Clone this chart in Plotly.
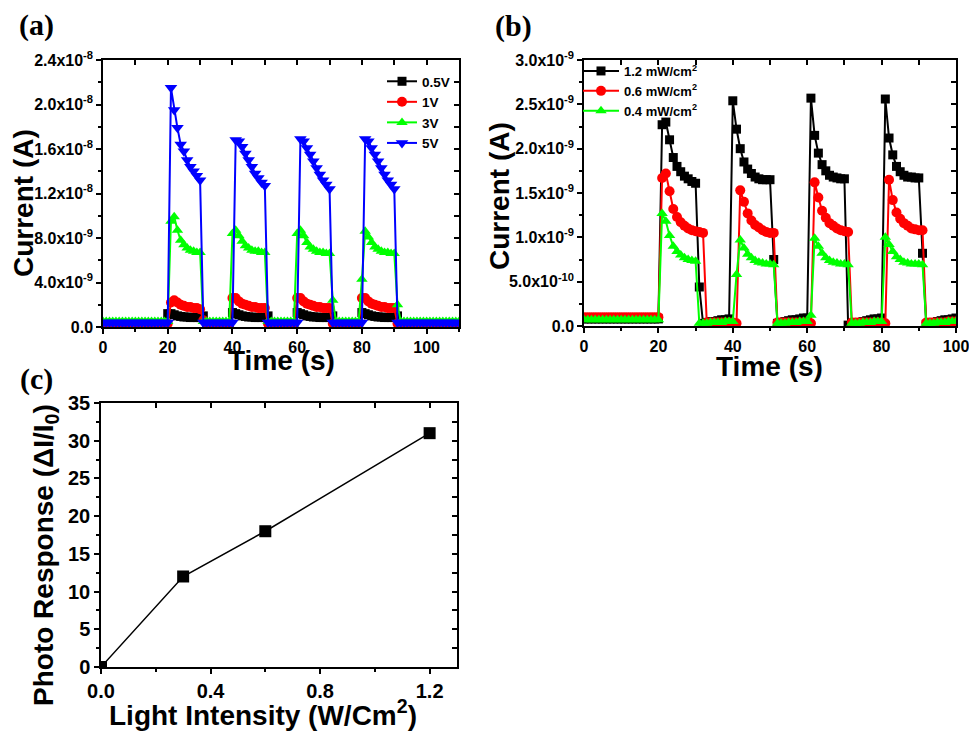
import plotly.graph_objects as go

W, H = 969, 731

# ---------------- Panel (a): current vs time at different bias (units of 1e-9 A)
time_a = list(range(0, 111))
a_05V = [0.1] * 20 + [1.2,
         1.2, 1.1, 1.0, 0.95, 0.9, 0.9, 0.85, 0.85, 0.85, 0.85,
         1.0] + [0.1] * 8 + [1.3,
         1.2, 1.1, 1.0, 0.95, 0.9, 0.9, 0.85, 0.85, 0.85, 0.85,
         1.0] + [0.1] * 8 + [1.3,
         1.2, 1.1, 1.0, 0.95, 0.9, 0.9, 0.85, 0.85, 0.85, 0.85,
         1.0] + [0.1] * 8 + [1.3,
         1.2, 1.1, 1.0, 0.95, 0.9, 0.9, 0.85, 0.85, 0.85, 0.85,
         1.0] + [0.1] * 19
a_1V = [0.3] * 21 + [2.2, 2.4, 2.2, 2.0, 1.9, 1.8, 1.8, 1.7, 1.7, 1.6,
        0.6] + [0.3] * 8 + [2.6,
        2.6, 2.3, 2.1, 2.0, 1.9, 1.8, 1.8, 1.7, 1.7, 1.7] + [0.3] * 9 + [2.6,
        2.6, 2.3, 2.1, 2.0, 1.9, 1.8, 1.8, 1.7, 1.7, 1.7] + [0.3] * 9 + [2.6,
        2.6, 2.3, 2.1, 2.0, 1.9, 1.8, 1.8, 1.7, 1.7, 1.7] + [0.3] * 20
a_3V = [0.5] * 21 + [9.5, 9.9, 8.7, 7.8, 7.4, 7.1, 6.9, 6.8, 6.7, 6.7] + [0.5] * 9 + [8.4,
        8.7, 8.2, 7.7, 7.3, 7.1, 6.9, 6.8, 6.8, 6.7, 6.7] + [0.5] * 9 + [8.4,
        8.7, 8.2, 7.6, 7.2, 7.0, 6.8, 6.7, 6.7, 6.6, 6.6,
        2.4] + [0.5] * 8 + [4.3,
        8.6, 8.1, 7.6, 7.2, 7.0, 6.8, 6.7, 6.7, 6.6, 6.6,
        2.0] + [0.5] * 19
a_5V = [0.4] * 21 + [21.5, 19.5, 17.9, 16.4, 15.8, 15.0, 14.4, 14.0, 13.6, 13.2] + [0.4] * 10 + [
        16.8, 16.7, 16.2, 15.6, 15.0, 14.4, 13.8, 13.4, 13.0, 12.7] + [0.4] * 10 + [
        16.9, 16.7, 16.1, 15.5, 14.9, 14.3, 13.7, 13.2, 12.8, 12.4] + [0.4] * 10 + [
        16.9, 16.7, 16.1, 15.5, 14.9, 14.3, 13.7, 13.2, 12.8, 12.4] + [0.4] * 20

a_names = ["0.5V", "1V", "3V", "5V"]
a_series = [a_05V, a_1V, a_3V, a_5V]
a_colors = ["#000000", "#FF0000", "#00FF00", "#0000FF"]
a_symbols = ["square", "circle", "triangle-up", "triangle-down"]
a_sizes = [9, 10, 10, 11]
a_ytickvals = [0, 4e-9, 8e-9, 1.2e-8, 1.6e-8, 2.0e-8, 2.4e-8]
a_yticktext = ["0.0", "4.0x10<sup>-9</sup>", "8.0x10<sup>-9</sup>", "1.2x10<sup>-8</sup>",
               "1.6x10<sup>-8</sup>", "2.0x10<sup>-8</sup>", "2.4x10<sup>-8</sup>"]

# ---------------- Panel (b): current vs time at different light intensity (units of 1e-9 A)
time_b = list(range(0, 101))
b_12 = [0.08] * 21 + [2.27, 2.30, 2.10, 1.90, 1.80, 1.74, 1.69, 1.66, 1.63, 1.61,
        0.44, 0.03, 0.04, 0.05, 0.05, 0.06, 0.07, 0.07, 0.08,
        2.54, 2.22, 2.00, 1.85, 1.77, 1.72, 1.68, 1.66, 1.65, 1.65, 1.65,
        0.75, 0.03, 0.04, 0.05, 0.06, 0.07, 0.07, 0.08, 0.09, 0.09,
        2.57, 2.15, 1.95, 1.82, 1.75, 1.70, 1.68, 1.67, 1.66, 1.66,
        0.01, 0.02, 0.03, 0.04, 0.05, 0.06, 0.07, 0.08, 0.08, 0.09,
        2.56, 2.12, 1.93, 1.80, 1.74, 1.70, 1.68, 1.68, 1.67, 1.67,
        0.82, 0.02, 0.03, 0.04, 0.05, 0.06, 0.07, 0.07, 0.08, 0.09]
b_06 = [0.10] * 21 + [1.67, 1.72, 1.52, 1.32, 1.23, 1.17, 1.13, 1.10, 1.08, 1.07, 1.06, 1.05,
        0.04, 0.04, 0.04, 0.04, 0.04, 0.04, 0.04, 0.04, 0.03,
        1.53, 1.40, 1.27, 1.19, 1.14, 1.11, 1.08, 1.06, 1.05, 1.05,
        0.04, 0.04, 0.04, 0.04, 0.04, 0.04, 0.04, 0.04, 0.04, 0.03,
        1.62, 1.45, 1.30, 1.22, 1.16, 1.13, 1.10, 1.08, 1.07, 1.06,
        0.04, 0.04, 0.04, 0.04, 0.04, 0.04, 0.04, 0.04, 0.04, 0.03,
        1.65, 1.42, 1.28, 1.21, 1.16, 1.13, 1.10, 1.09, 1.08, 1.08,
        0.04, 0.04, 0.04, 0.04, 0.04, 0.04, 0.05, 0.05, 0.05]
b_04 = [0.07] * 21 + [1.27, 1.18, 1.02, 0.90, 0.84, 0.80, 0.77, 0.75, 0.74, 0.73,
        0.03, 0.03, 0.03, 0.04, 0.04, 0.04, 0.04, 0.05, 0.05, 0.05,
        0.58, 0.97, 0.88, 0.81, 0.77, 0.74, 0.72, 0.71, 0.70, 0.70, 0.69,
        0.03, 0.03, 0.03, 0.04, 0.04, 0.04, 0.05, 0.05, 0.05,
        0.12, 0.99, 0.90, 0.82, 0.77, 0.74, 0.72, 0.71, 0.70, 0.70, 0.69,
        0.03, 0.03, 0.03, 0.04, 0.04, 0.04, 0.05, 0.05, 0.05,
        1.00, 0.92, 0.84, 0.78, 0.75, 0.72, 0.71, 0.70, 0.70, 0.70, 0.69,
        0.03, 0.03, 0.03, 0.04, 0.04, 0.04, 0.05, 0.05, 0.05]

b_names = ["1.2 mW/cm<sup>2</sup>", "0.6 mW/cm<sup>2</sup>", "0.4 mW/cm<sup>2</sup>"]
b_series = [b_12, b_06, b_04]
b_colors = ["#000000", "#FF0000", "#00FF00"]
b_symbols = ["square", "circle", "triangle-up"]
b_sizes = [9, 10, 10]
b_ytickvals = [0, 0.5e-9, 1.0e-9, 1.5e-9, 2.0e-9, 2.5e-9, 3.0e-9]
b_yticktext = ["0.0", "5.0x10<sup>-10</sup>", "1.0x10<sup>-9</sup>", "1.5x10<sup>-9</sup>",
               "2.0x10<sup>-9</sup>", "2.5x10<sup>-9</sup>", "3.0x10<sup>-9</sup>"]

# ---------------- Panel (c): photo response vs light intensity
intensity_c = [0.0, 0.3, 0.6, 1.2]
response_c = [0.0, 12.0, 18.0, 31.0]

NANO = 1e-9
FONT = "Liberation Sans"

fig = go.Figure()

for name, vals, col, sym, sz in zip(a_names, a_series, a_colors, a_symbols, a_sizes):
    fig.add_trace(go.Scatter(
        x=time_a, y=[v * NANO for v in vals], name=name, mode="lines+markers",
        line=dict(color=col, width=2), marker=dict(symbol=sym, size=sz, color=col),
        xaxis="x", yaxis="y", legend="legend"))

for name, vals, col, sym, sz in zip(b_names, b_series, b_colors, b_symbols, b_sizes):
    fig.add_trace(go.Scatter(
        x=time_b, y=[v * NANO for v in vals], name=name, mode="lines+markers",
        line=dict(color=col, width=2), marker=dict(symbol=sym, size=sz, color=col),
        xaxis="x2", yaxis="y2", legend="legend2"))

fig.add_trace(go.Scatter(
    x=intensity_c, y=response_c, mode="lines+markers", showlegend=False,
    line=dict(color="black", width=1.5), marker=dict(symbol="square", size=12, color="black"),
    xaxis="x3", yaxis="y3"))

# empty placeholder traces so that the mirrored (top / right) axes get drawn
for xa, ya in [("x4", "y"), ("x", "y4"), ("x5", "y2"), ("x2", "y5"), ("x6", "y3"), ("x3", "y6")]:
    fig.add_trace(go.Scatter(x=[], y=[], xaxis=xa, yaxis=ya, showlegend=False,
                             hoverinfo="skip"))


def dx(p):
    return p / W


def dy(p):
    return 1 - p / H


def base_axis(dom, rng, fs, **kw):
    d = dict(domain=dom, range=rng, showline=True, linecolor="black", linewidth=1.5,
             ticks="outside", ticklen=5, tickwidth=1.5, tickcolor="black",
             showgrid=False, zeroline=False, fixedrange=True, automargin=False,
             ticklabeloverflow="allow",
             tickfont=dict(family=FONT, size=fs, color="black", weight="bold"))
    d.update(kw)
    return d


def mirror_axis(over, anchor, side, rng, dtick):
    return dict(overlaying=over, anchor=anchor, side=side, range=rng,
                tickmode="linear", tick0=0, dtick=dtick, ticks="inside", ticklen=5,
                tickwidth=1.5, tickcolor="black", showticklabels=False, showline=True,
                linecolor="black", linewidth=1.5, showgrid=False, zeroline=False,
                fixedrange=True, automargin=False)


def minor_out(d):
    return dict(ticks="outside", ticklen=3, tickwidth=1.5, tickcolor="black",
                tickmode="linear", tick0=0, dtick=d, showgrid=False)


xa_dom = [dx(103), dx(459)]
ya_dom = [dy(327), dy(60)]
xb_dom = [dx(584), dx(956)]
yb_dom = [dy(326), dy(60)]
xc_dom = [dx(101), dx(457)]
yc_dom = [dy(667), dy(403)]

fig.update_layout(
    template="none",
    width=W, height=H, margin=dict(l=0, r=0, t=0, b=0, pad=0, autoexpand=False),
    paper_bgcolor="white", plot_bgcolor="white",
    xaxis=base_axis(xa_dom, [0, 110], 16, anchor="y", tickmode="linear", tick0=0, dtick=20,
                    minor=minor_out(10)),
    yaxis=base_axis(ya_dom, [0, 2.4e-8], 16, anchor="x", tickmode="array",
                    tickvals=a_ytickvals, ticktext=a_yticktext, minor=minor_out(2e-9)),
    xaxis2=base_axis(xb_dom, [0, 100], 16, anchor="y2", tickmode="linear", tick0=0, dtick=20,
                     minor=minor_out(10)),
    yaxis2=base_axis(yb_dom, [0, 3.0e-9], 16, anchor="x2", tickmode="array",
                     tickvals=b_ytickvals, ticktext=b_yticktext, minor=minor_out(0.25e-9)),
    xaxis3=base_axis(xc_dom, [0, 1.3], 20, anchor="y3", tickmode="linear", tick0=0, dtick=0.4,
                     tickformat=".1f", minor=minor_out(0.2)),
    yaxis3=base_axis(yc_dom, [0, 35], 20, anchor="x3", tickmode="linear", tick0=0, dtick=5,
                     minor=minor_out(2.5)),
    xaxis4=mirror_axis("x", "y", "top", [0, 110], 10),
    yaxis4=mirror_axis("y", "x", "right", [0, 2.4e-8], 2e-9),
    xaxis5=mirror_axis("x2", "y2", "top", [0, 100], 10),
    yaxis5=mirror_axis("y2", "x2", "right", [0, 3.0e-9], 0.25e-9),
    xaxis6=mirror_axis("x3", "y3", "top", [0, 1.3], 0.2),
    yaxis6=mirror_axis("y3", "x3", "right", [0, 35], 2.5),
    legend=dict(x=dx(382), y=dy(66), xanchor="left", yanchor="top", bgcolor="rgba(0,0,0,0)",
                itemwidth=30, font=dict(family=FONT, size=13.5, color="black", weight="bold"),
                tracegroupgap=0, borderwidth=0),
    legend2=dict(x=dx(578), y=dy(56), xanchor="left", yanchor="top", bgcolor="rgba(0,0,0,0)",
                 itemwidth=36, font=dict(family=FONT, size=13, color="black", weight="bold"),
                 tracegroupgap=0, borderwidth=0),
)

title_font = dict(family=FONT, size=28, color="black", weight="bold")
label_font = dict(family="Liberation Serif", size=30, color="black", weight="bold")
annots = [
    dict(text="(a)", x=dx(36), y=dy(25), font=label_font),
    dict(text="(b)", x=dx(513), y=dy(26), font=label_font),
    dict(text="(c)", x=dx(36), y=dy(379), font=label_font),
    dict(text="Time (s)", x=dx(281), y=dy(361), font=title_font),
    dict(text="Current (A)", x=dx(23), y=dy(203), font=title_font, textangle=-90),
    dict(text="Time (s)", x=dx(769), y=dy(366), font=title_font),
    dict(text="Current (A)", x=dx(500), y=dy(196), font=title_font, textangle=-90),
    dict(text="Light Intensity (W/Cm<sup>2</sup>)", x=dx(263), y=dy(713), font=title_font),
    dict(text="Photo Response (ΔI/I<sub>0</sub>)", x=dx(45), y=dy(555), font=title_font,
         textangle=-90),
]
for a in annots:
    fig.add_annotation(xref="paper", yref="paper", showarrow=False,
                       xanchor="center", yanchor="middle", **a)

# remove the browser's default 8 px page margin so the figure sits at the window origin
fig.write_html("out.html", config={"displayModeBar": False},
               post_script="document.body.style.margin='0px';document.body.style.overflow='hidden';")
